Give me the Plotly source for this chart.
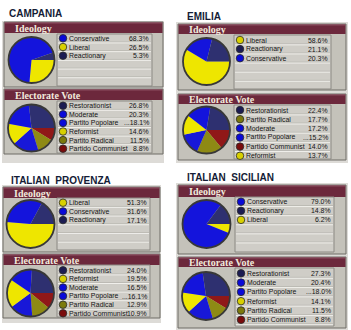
import plotly.graph_objects as go

W, H = 351, 330

# ---------------- data ----------------
region_names = ["CAMPANIA", "EMILIA", "ITALIAN  PROVENZA", "ITALIAN  SICILIAN"]

campania_ideo_labels = ["Conservative", "Liberal", "Reactionary"]
campania_ideo_values = [68.3, 26.5, 5.3]
campania_vote_labels = ["Restorationist", "Moderate", "Partito Popolare", "Reformist",
                        "Partito Radical", "Partido Communist"]
campania_vote_values = [26.8, 20.3, 18.1, 14.6, 11.5, 8.8]

emilia_ideo_labels = ["Liberal", "Reactionary", "Conservative"]
emilia_ideo_values = [58.6, 21.1, 20.3]
emilia_vote_labels = ["Restorationist", "Partito Radical", "Moderate", "Partito Popolare",
                      "Partido Communist", "Reformist"]
emilia_vote_values = [22.4, 17.7, 17.2, 15.2, 14.0, 13.7]

provenza_ideo_labels = ["Liberal", "Conservative", "Reactionary"]
provenza_ideo_values = [51.3, 31.6, 17.1]
provenza_vote_labels = ["Restorationist", "Reformist", "Moderate", "Partito Popolare",
                        "Partito Radical", "Partido Communist"]
provenza_vote_values = [24.0, 19.5, 16.5, 16.1, 12.9, 10.9]

sicilian_ideo_labels = ["Conservative", "Reactionary", "Liberal"]
sicilian_ideo_values = [79.0, 14.8, 6.2]
sicilian_vote_labels = ["Restorationist", "Moderate", "Partito Popolare", "Reformist",
                        "Partito Radical", "Partido Communist"]
sicilian_vote_values = [27.3, 20.4, 18.0, 14.1, 11.5, 8.8]

# fixed drawing order of slices (counter-clockwise from 3 o'clock)
ideology_order = ["Reactionary", "Conservative", "Liberal"]
party_order = ["Restorationist", "Moderate", "Reformist", "Partito Popolare",
               "Partito Radical", "Partido Communist"]
truncated_labels = {"Partito Popolare"}

# ---------------- styles ----------------
COL = {
    "Reactionary": "#2e3070", "Restorationist": "#2e3070",
    "Conservative": "#1414dc", "Moderate": "#1414dc", "Partito Popolare": "#1818d8",
    "Liberal": "#eee600", "Reformist": "#eee600",
    "Partito Radical": "#8e8a14", "Partido Communist": "#901818",
}
DOT = {
    "Reactionary": "#1c1c52", "Restorationist": "#1c1c52",
    "Conservative": "#0a0ad8", "Moderate": "#0a0ad8", "Partito Popolare": "#0a0ad8",
    "Liberal": "#d8d000", "Reformist": "#d8d000",
    "Partito Radical": "#7c7a0c", "Partido Communist": "#7a0c0c",
}

regions = [
    (campania_ideo_labels, campania_ideo_values, campania_vote_labels, campania_vote_values),
    (emilia_ideo_labels, emilia_ideo_values, emilia_vote_labels, emilia_vote_values),
    (provenza_ideo_labels, provenza_ideo_values, provenza_vote_labels, provenza_vote_values),
    (sicilian_ideo_labels, sicilian_ideo_values, sicilian_vote_labels, sicilian_vote_values),
]

# geometry in pixels (layout only)
geom = [
    dict(title=(7, 13.5), frame=(2, 21, 164, 163), x0=4, x1=163, legx=(57, 152),
         ideo=dict(y0=22, hdr=33, y1=87, pie=(31.5, 60, 23), row0=38.3, dy=8.7, box=(34, 86)),
         vote=dict(y0=89, hdr=100, y1=154, pie=(31.5, 128, 23.5), row0=105.7, dy=8.6, box=(101, 153))),
    dict(title=(185, 16), frame=(176, 22, 348, 163), x0=178, x1=346, legx=(234, 331),
         ideo=dict(y0=24, hdr=34, y1=90, pie=(206.5, 61.5, 23.5), row0=40, dy=9.1, box=(35, 89)),
         vote=dict(y0=94, hdr=104, y1=160, pie=(206.5, 130, 23.5), row0=110, dy=9.15, box=(105, 159))),
    dict(title=(9, 180), frame=(2, 185, 161, 323), x0=3, x1=160, legx=(57, 150),
         ideo=dict(y0=187, hdr=198, y1=252, pie=(30.5, 224, 24), row0=202.7, dy=8.7, box=(198, 250)),
         vote=dict(y0=254, hdr=265, y1=318, pie=(30.5, 293, 23.5), row0=270.3, dy=8.6, box=(265, 317))),
    dict(title=(185, 177.5), frame=(176, 183, 348, 330), x0=178, x1=346, legx=(235, 334),
         ideo=dict(y0=185, hdr=197, y1=254, pie=(206.5, 224, 24), row0=201.7, dy=9.1, box=(197, 252)),
         vote=dict(y0=257, hdr=267, y1=328, pie=(206, 296, 24), row0=273.3, dy=9.3, box=(268, 326))),
]

fig = go.Figure()
shapes, annotations = [], []
dot_x, dot_y, dot_c = [], [], []


def rect(x0, y0, x1, y1, fill, line=None, lw=0, layer="below"):
    shapes.append(dict(type="rect", xref="x", yref="y", x0=x0, y0=y0, x1=x1, y1=y1,
                       fillcolor=fill, line=dict(color=line or fill, width=lw), layer=layer))


def hline(x0, x1, y, color, lw=1):
    shapes.append(dict(type="line", xref="x", yref="y", x0=x0, x1=x1, y0=y, y1=y,
                       line=dict(color=color, width=lw), layer="below"))


for name, (il, iv, vl, vv), g in zip(region_names, regions, geom):
    fx0, fy0, fx1, fy1 = g["frame"]
    rect(fx0, fy0, fx1, fy1, "#dddbd7")
    annotations.append(dict(x=g["title"][0], y=g["title"][1], xref="x", yref="y",
                            text="<b>%s</b>" % name, showarrow=False, xanchor="left",
                            yanchor="middle", font=dict(family="Liberation Sans", size=10,
                                                        color="#141c36")))
    for key, labels, values, order, head in (("ideo", il, iv, ideology_order, "Ideology"),
                                             ("vote", vl, vv, party_order, "Electorate Vote")):
        p = g[key]
        # panel body + header
        rect(g["x0"], p["y0"], g["x1"], p["y1"], "#c4c2ba", "#6e6c66", 1)
        rect(g["x0"] + 0.5, p["y0"] + 0.5, g["x1"] - 0.5, p["hdr"], "#6c283c")
        hline(g["x0"] + 1, g["x1"] - 1, p["y0"] + 1, "#8c4e60", 1)
        annotations.append(dict(x=g["x0"] + 8.5, y=(p["y0"] + p["hdr"]) / 2 + 0.5, xref="x", yref="y",
                                text="<b>%s</b>" % head, showarrow=False, xanchor="left",
                                yanchor="middle",
                                font=dict(family="Liberation Serif", size=10, color="#f2eadc")))
        # legend box
        lx0, lx1 = g["legx"]
        by0, by1 = p["box"]
        rect(lx0, by0, lx1, by1, "#cfcdc7", "#8c8a84", 1)
        y = p["row0"] + p["dy"] / 2
        while y < by1 - 1:
            hline(lx0 + 1, lx1 - 1, y - 0.6, "#b4b2ac", 0.8)
            hline(lx0 + 1, lx1 - 1, y + 0.3, "#f0efeb", 1)
            y += p["dy"]
        for i, (lab, val) in enumerate(zip(labels, values)):
            ry = p["row0"] + i * p["dy"]
            dot_x.append(lx0 + 6)
            dot_y.append(ry)
            dot_c.append(DOT[lab])
            annotations.append(dict(x=lx0 + 10, y=ry, xref="x", yref="y", text=lab,
                                    showarrow=False, xanchor="left", yanchor="middle",
                                    font=dict(family="Liberation Sans", size=6.9, color="#141414")))
            pct = "%.1f%%" % val
            if lab in truncated_labels:
                pct = "..." + pct
            annotations.append(dict(x=lx1 - 1, y=ry, xref="x", yref="y", text=pct,
                                    showarrow=False, xanchor="right", yanchor="middle",
                                    font=dict(family="Liberation Sans", size=6.9, color="#141414")))
        # pie: drawn clockwise from 3 o'clock in reversed order == counter-clockwise in order
        cx, cy, r = p["pie"]
        draw_order = order[::-1]
        vals = [values[labels.index(k)] for k in draw_order]
        fig.add_trace(go.Pie(
            labels=draw_order, values=vals, sort=False, direction="clockwise", rotation=90,
            marker=dict(colors=[COL[k] for k in draw_order], line=dict(width=0)),
            textinfo="none", hoverinfo="skip", showlegend=False,
            domain=dict(x=[(cx - r) / W, (cx + r) / W], y=[1 - (cy + r) / H, 1 - (cy - r) / H])))
        shapes.append(dict(type="circle", xref="x", yref="y", x0=cx - r, x1=cx + r,
                           y0=cy - r, y1=cy + r, line=dict(color="#383838", width=1.8),
                           layer="above"))

fig.add_trace(go.Scatter(x=dot_x, y=dot_y, mode="markers", hoverinfo="skip", showlegend=False,
                         marker=dict(size=7.5, color=dot_c, line=dict(color="#2a2a2a", width=0.8))))

fig.update_layout(
    width=W, height=H, margin=dict(l=0, r=0, t=0, b=0),
    paper_bgcolor="white", plot_bgcolor="rgba(0,0,0,0)",
    xaxis=dict(range=[0, W], visible=False, fixedrange=True),
    yaxis=dict(range=[H, 0], visible=False, fixedrange=True),
    shapes=shapes, annotations=annotations, showlegend=False, hovermode=False,
)
fig.write_html("out.html")
